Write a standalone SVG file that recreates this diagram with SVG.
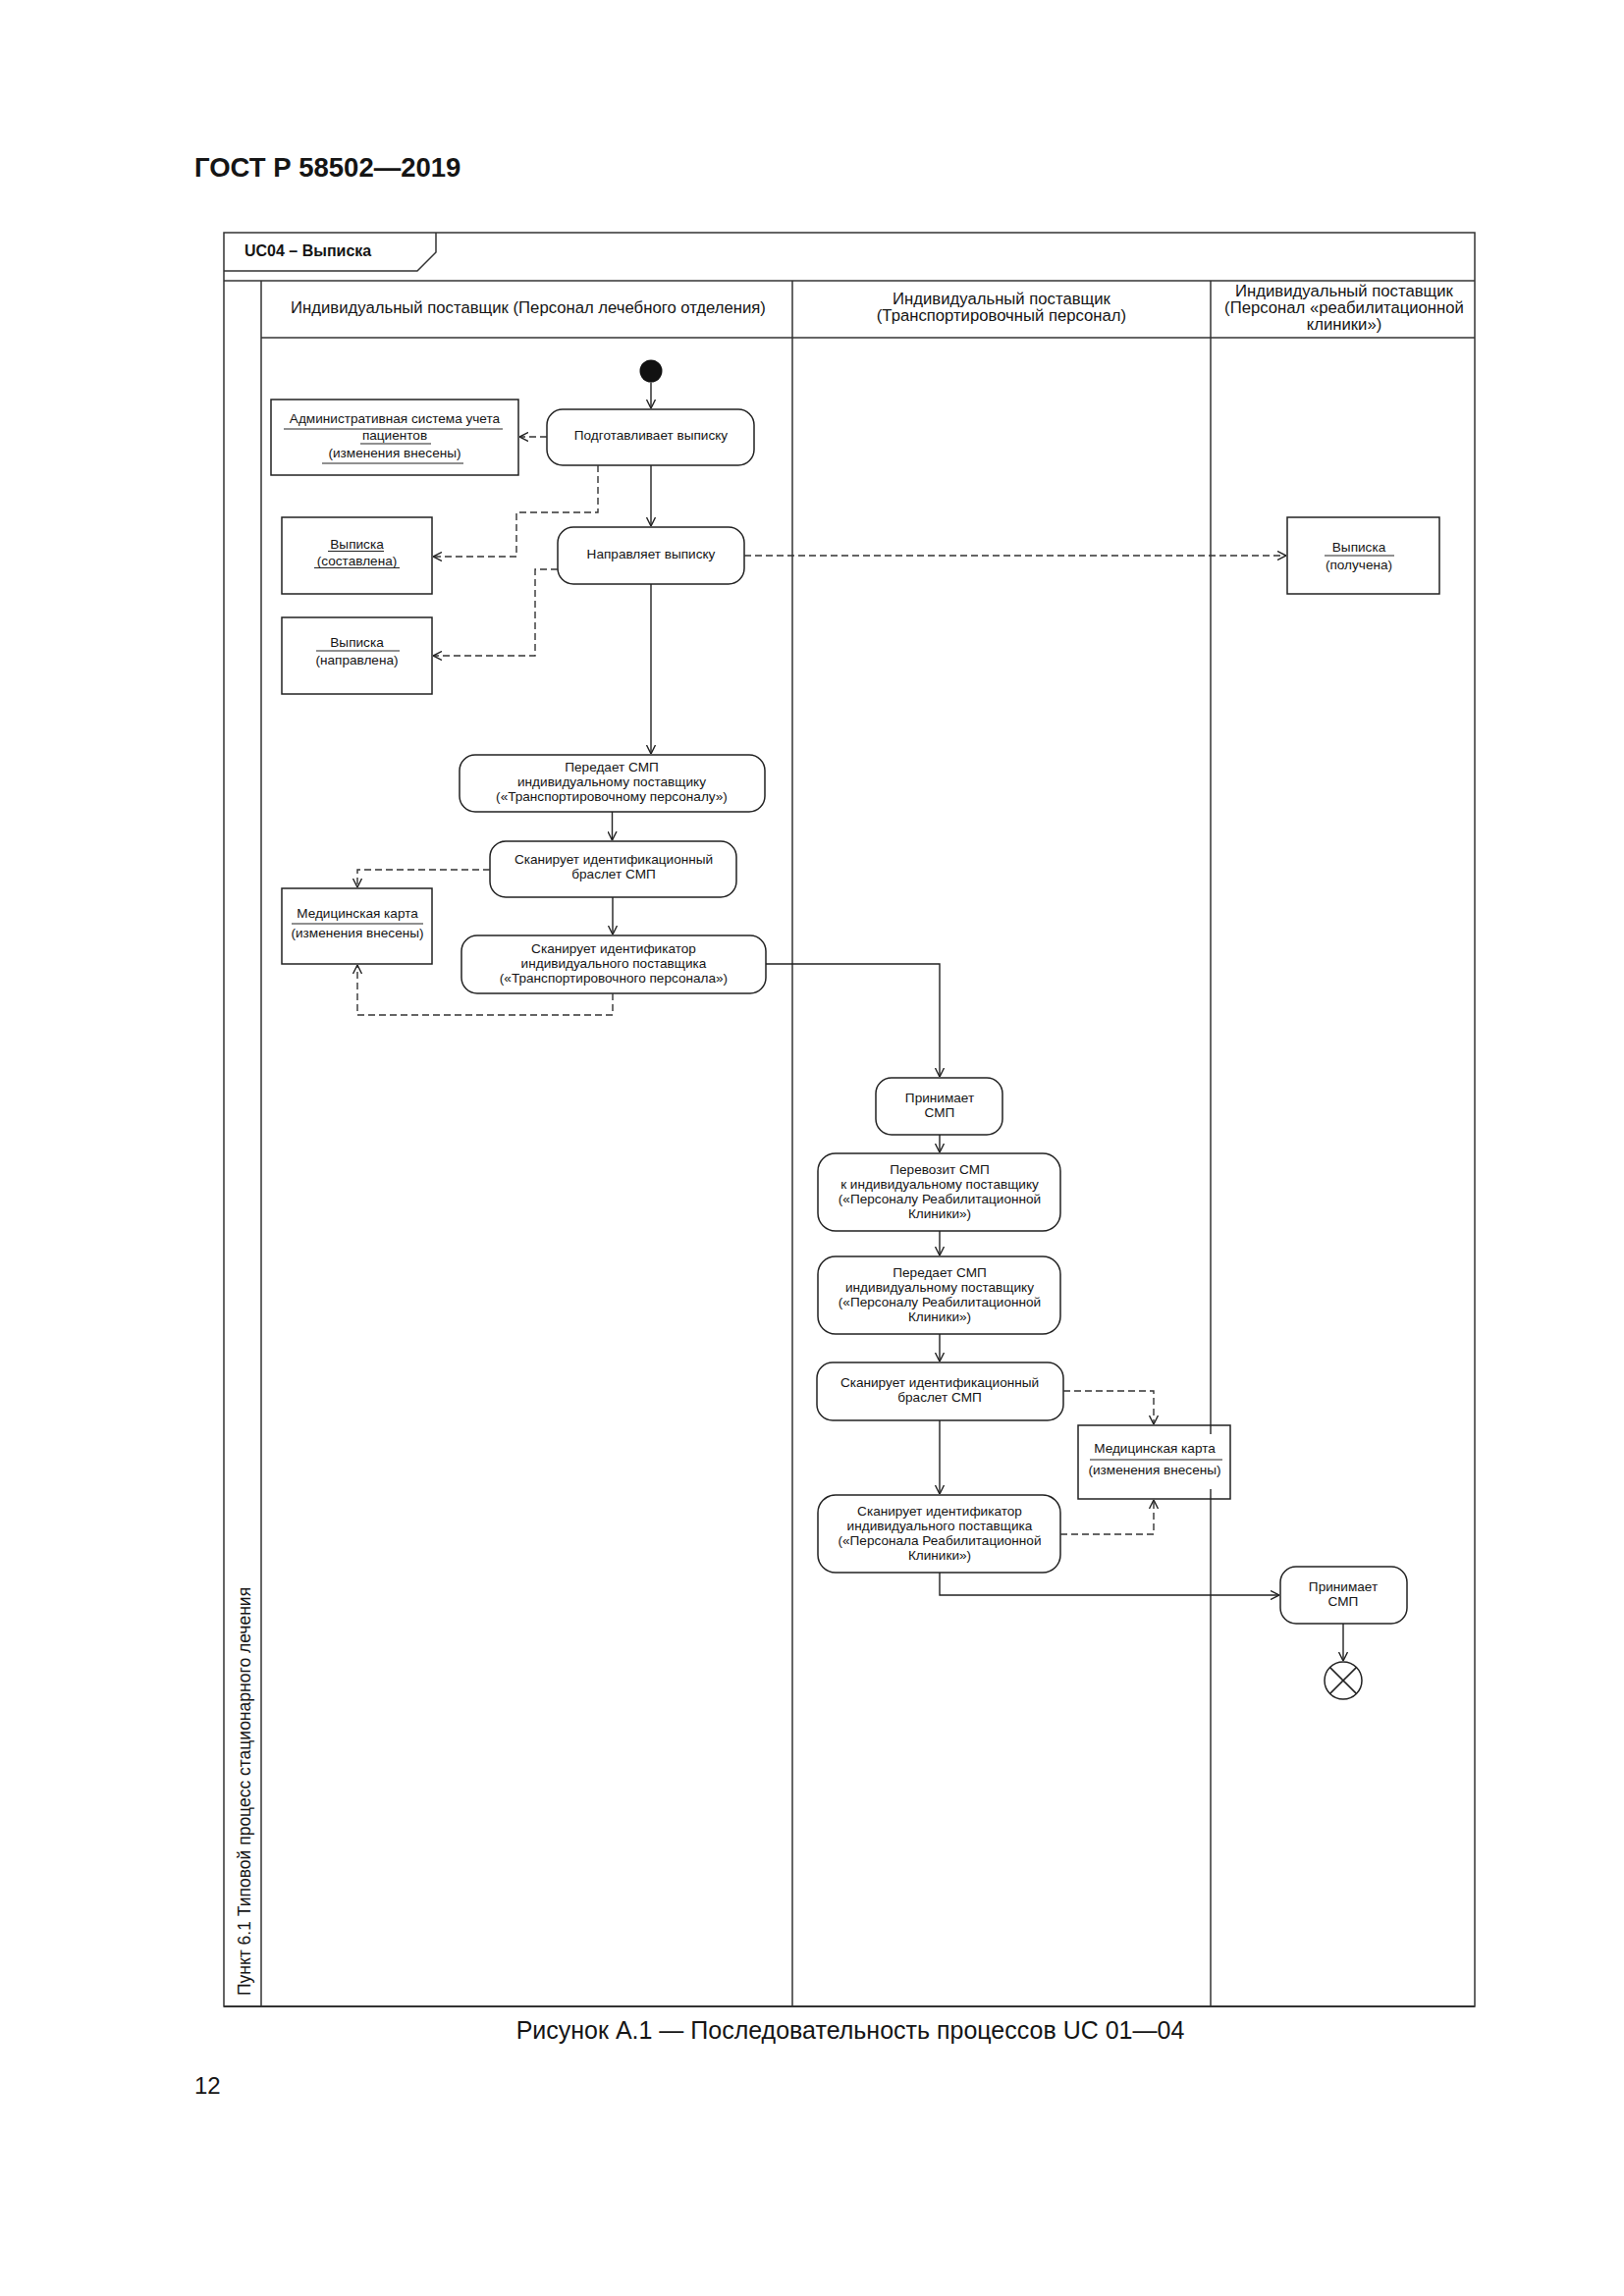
<svg xmlns="http://www.w3.org/2000/svg" width="1654" height="2339" viewBox="0 0 1654 2339">
<defs>
<marker id="arr" viewBox="0 0 9 10" refX="9" refY="5" markerWidth="9" markerHeight="10" markerUnits="userSpaceOnUse" orient="auto">
<path d="M0,0.5 L9,5 L0,9.5" fill="none" stroke="#222" stroke-width="1.4"/>
</marker>
</defs>
<style>
text{font-family:"Liberation Sans",Arial,sans-serif;fill:#151515}
.n{font-size:13.6px;text-anchor:middle}
.h{font-size:16.7px;text-anchor:middle}
.act{fill:#fff;stroke:#222;stroke-width:1.5}
.obj{fill:#fff;stroke:#222;stroke-width:1.5}
.objt{fill:none;stroke:#222;stroke-width:1.5}
.ul{stroke:#222;stroke-width:1.2}
.flow{fill:none;stroke:#222;stroke-width:1.4;marker-end:url(#arr)}
.dep{fill:none;stroke:#333;stroke-width:1.4;stroke-dasharray:7 4;marker-end:url(#arr)}
.fr{fill:none;stroke:#333;stroke-width:1.5}
</style>
<rect width="1654" height="2339" fill="#fff"/>
<text x="198" y="180" style="font-size:27.5px;font-weight:bold">ГОСТ Р 58502—2019</text>
<text x="198" y="2133" style="font-size:24px">12</text>
<text x="866" y="2077" style="font-size:25px;text-anchor:middle">Рисунок А.1 — Последовательность процессов UC 01—04</text>

<g id="frame">
<rect class="fr" x="228" y="237" width="1274" height="1807"/>
<line class="fr" x1="228" y1="2044" x2="1502" y2="2044" style="stroke-width:2.2"/>
<polyline class="fr" points="228,276 425,276 444,257 444,237"/>
<line class="fr" x1="228" y1="286" x2="1502" y2="286"/>
<line class="fr" x1="266" y1="286" x2="266" y2="2044"/>
<line class="fr" x1="266" y1="344" x2="1502" y2="344"/>
<line class="fr" x1="807" y1="286" x2="807" y2="2044"/>
<line class="fr" x1="1233" y1="286" x2="1233" y2="2044"/>
<text x="249" y="261" style="font-size:16px;font-weight:bold">UC04 – Выписка</text>
<text transform="translate(255,1825) rotate(-90)" style="font-size:17.5px;text-anchor:middle">Пункт 6.1 Типовой процесс стационарного лечения</text>
<text class="h" x="538" y="319">Индивидуальный поставщик (Персонал лечебного отделения)</text>
<text class="h" x="1020" y="310">Индивидуальный поставщик</text>
<text class="h" x="1020" y="327">(Транспортировочный персонал)</text>
<text class="h" x="1369" y="302">Индивидуальный поставщик</text>
<text class="h" x="1369" y="319">(Персонал «реабилитационной</text>
<text class="h" x="1369" y="336">клиники»)</text>
</g>

<g id="start"><circle cx="663" cy="378" r="11.5" fill="#111"/></g>

<g id="n1"><rect class="act" x="557" y="417" width="211" height="57" rx="16"/>
<text class="n" x="663" y="448">Подготавливает выписку</text></g>

<g id="n2"><rect class="act" x="568" y="537" width="190" height="58" rx="16"/>
<text class="n" x="663" y="569">Направляет выписку</text></g>

<g id="n3"><rect class="act" x="468" y="769" width="311" height="58" rx="16"/>
<text class="n" x="623" y="786">Передает СМП</text>
<text class="n" x="623" y="801">индивидуальному поставщику</text>
<text class="n" x="623" y="816">(«Транспортировочному персоналу»)</text></g>

<g id="n4"><rect class="act" x="499" y="857" width="251" height="57" rx="16"/>
<text class="n" x="625" y="880">Сканирует идентификационный</text>
<text class="n" x="625" y="895">браслет СМП</text></g>

<g id="n5"><rect class="act" x="470" y="953" width="310" height="59" rx="16"/>
<text class="n" x="625" y="971">Сканирует идентификатор</text>
<text class="n" x="625" y="986">индивидуального поставщика</text>
<text class="n" x="625" y="1001">(«Транспортировочного персонала»)</text></g>

<g id="n6"><rect class="act" x="892" y="1098" width="129" height="58" rx="16"/>
<text class="n" x="957" y="1123">Принимает</text>
<text class="n" x="957" y="1138">СМП</text></g>

<g id="n7"><rect class="act" x="833" y="1175" width="247" height="79" rx="18"/>
<text class="n" x="957" y="1196">Перевозит СМП</text>
<text class="n" x="957" y="1211">к индивидуальному поставщику</text>
<text class="n" x="957" y="1226">(«Персоналу Реабилитационной</text>
<text class="n" x="957" y="1241">Клиники»)</text></g>

<g id="n8"><rect class="act" x="833" y="1280" width="247" height="79" rx="18"/>
<text class="n" x="957" y="1301">Передает СМП</text>
<text class="n" x="957" y="1316">индивидуальному поставщику</text>
<text class="n" x="957" y="1331">(«Персоналу Реабилитационной</text>
<text class="n" x="957" y="1346">Клиники»)</text></g>

<g id="n9"><rect class="act" x="832" y="1388" width="251" height="59" rx="16"/>
<text class="n" x="957" y="1413">Сканирует идентификационный</text>
<text class="n" x="957" y="1428">браслет СМП</text></g>

<g id="n10"><rect class="act" x="833" y="1523" width="247" height="79" rx="18"/>
<text class="n" x="957" y="1544">Сканирует идентификатор</text>
<text class="n" x="957" y="1559">индивидуального поставщика</text>
<text class="n" x="957" y="1574">(«Персонала Реабилитационной</text>
<text class="n" x="957" y="1589">Клиники»)</text></g>

<g id="n11"><rect class="act" x="1304" y="1596" width="129" height="58" rx="16"/>
<text class="n" x="1368" y="1621">Принимает</text>
<text class="n" x="1368" y="1636">СМП</text></g>

<g id="end"><circle cx="1368" cy="1712" r="19" fill="#fff" stroke="#222" stroke-width="1.5"/>
<line x1="1354.6" y1="1698.6" x2="1381.4" y2="1725.4" stroke="#222" stroke-width="1.5"/>
<line x1="1381.4" y1="1698.6" x2="1354.6" y2="1725.4" stroke="#222" stroke-width="1.5"/></g>

<g id="o-admin"><rect class="obj" x="276" y="407" width="252" height="77"/>
<text class="n" x="402" y="431">Административная система учета</text>
<line class="ul" x1="289" y1="437" x2="512" y2="437"/>
<text class="n" x="402" y="448">пациентов</text>
<line class="ul" x1="367" y1="452" x2="439" y2="452"/>
<text class="n" x="402" y="466">(изменения внесены)</text>
<line class="ul" x1="328" y1="472" x2="472" y2="472"/></g>

<g id="o-vyp1"><rect class="obj" x="287" y="527" width="153" height="78"/>
<text class="n" x="363.5" y="559">Выписка</text>
<line class="ul" x1="334" y1="561.5" x2="391" y2="561.5"/>
<text class="n" x="363.5" y="576">(составлена)</text>
<line class="ul" x1="320" y1="578.5" x2="407" y2="578.5"/></g>

<g id="o-vyp2"><rect class="obj" x="287" y="629" width="153" height="78"/>
<text class="n" x="363.5" y="659">Выписка</text>
<line class="ul" x1="322" y1="663" x2="407" y2="663"/>
<text class="n" x="363.5" y="677">(направлена)</text></g>

<g id="o-vyp3"><rect class="obj" x="1311" y="527" width="155" height="78"/>
<text class="n" x="1384" y="562">Выписка</text>
<line class="ul" x1="1349" y1="566" x2="1420" y2="566"/>
<text class="n" x="1384" y="580">(получена)</text></g>

<g id="o-med1"><rect class="obj" x="287" y="905" width="153" height="77"/>
<text class="n" x="364" y="935">Медицинская карта</text>
<line class="ul" x1="297" y1="941" x2="431" y2="941"/>
<text class="n" x="364" y="955">(изменения внесены)</text></g>

<g id="o-med2"><rect class="objt" x="1098" y="1452" width="155" height="75"/>
<rect x="1106" y="1461" width="142" height="56" fill="#fff"/>
<text class="n" x="1176" y="1480">Медицинская карта</text>
<line class="ul" x1="1110" y1="1487" x2="1245" y2="1487"/>
<text class="n" x="1176" y="1502">(изменения внесены)</text></g>

<g id="connectors">
<path class="flow" d="M663,389.5 V416"/>
<path class="flow" d="M663,474 V536"/>
<path class="flow" d="M663,595 V768"/>
<path class="flow" d="M623.5,827 V856"/>
<path class="flow" d="M624,914 V952"/>
<path class="flow" d="M780,982 H957 V1097"/>
<path class="flow" d="M957,1156 V1174"/>
<path class="flow" d="M957,1254 V1279"/>
<path class="flow" d="M957,1359 V1387"/>
<path class="flow" d="M957,1447 V1522"/>
<path class="flow" d="M957,1602 V1625 H1303"/>
<path class="flow" d="M1368,1654 V1692"/>
<path class="dep" d="M557,445 H529"/>
<path class="dep" d="M609,474 V522 H526 V567 H441"/>
<path class="dep" d="M758,566 H1310"/>
<path class="dep" d="M568,580 H545 V668 H441"/>
<path class="dep" d="M499,886 H364 V904"/>
<path class="dep" d="M624,1012 V1034 H364 V983"/>
<path class="dep" d="M1083,1417 H1175 V1451"/>
<path class="dep" d="M1080,1563 H1175 V1528"/>
</g>
</svg>
